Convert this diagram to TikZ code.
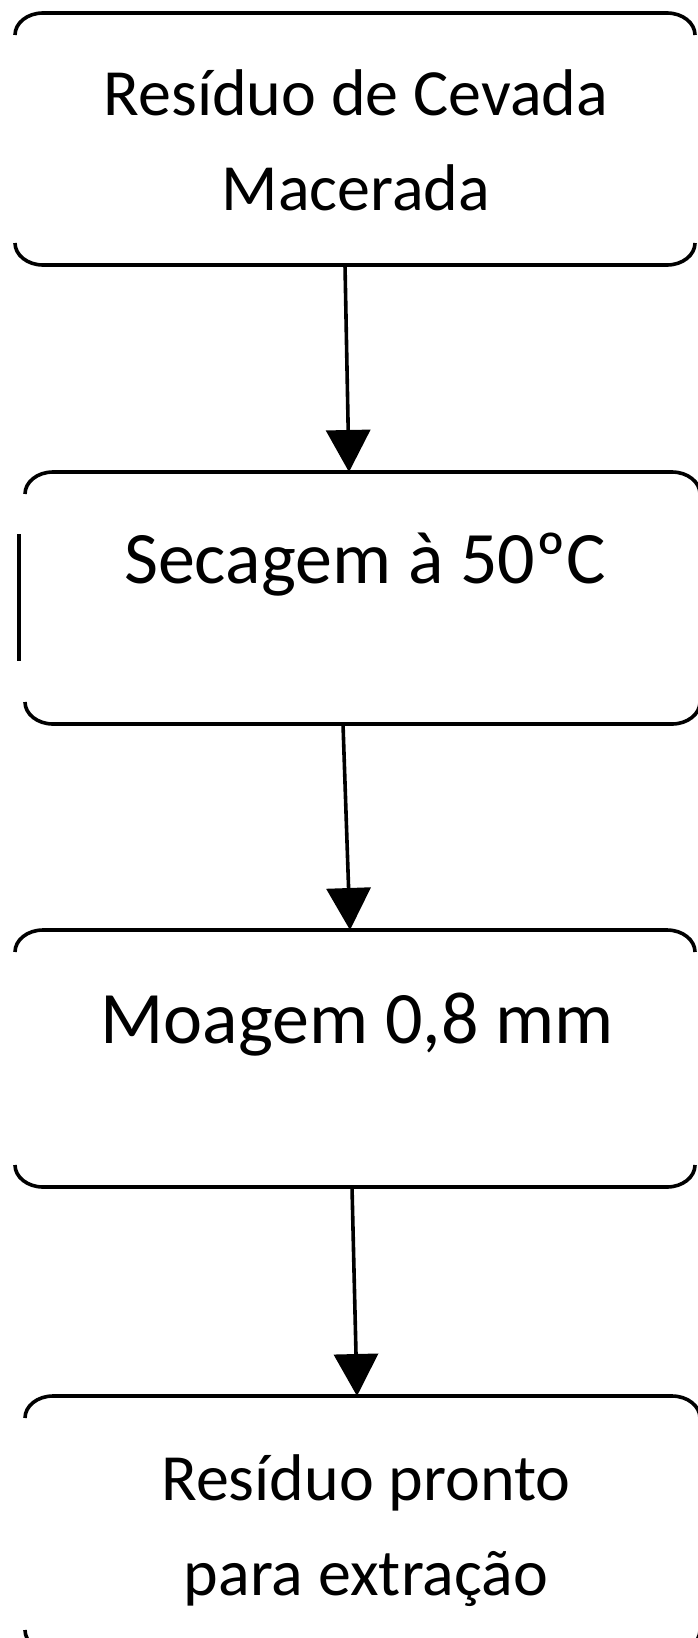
\documentclass[tikz,border=0pt]{standalone}
\usepackage{fontspec}
\setmainfont{Carlito}
\usetikzlibrary{arrows.meta}
\tikzset{
  boxnode/.style={rectangle, draw=none, inner sep=0pt, outer sep=0pt},
  boxline/.style={line width=3.6pt, black},
  txt/.style={align=center, inner sep=0pt, outer sep=0pt},
  arrowline/.style={line width=3.6pt, -{Triangle[length=42pt,width=44pt]}},
}
\newcommand\openbox[1]{%
  \draw[boxline] ([yshift=-22pt]#1.north west) arc[start angle=180,end angle=90,x radius=28pt,y radius=22pt]
     -- ([xshift=-28pt]#1.north east) arc[start angle=90,end angle=0,x radius=28pt,y radius=22pt];
  \draw[boxline] ([yshift=22pt]#1.south west) arc[start angle=180,end angle=270,x radius=28pt,y radius=22pt]
     -- ([xshift=-28pt]#1.south east) arc[start angle=270,end angle=360,x radius=28pt,y radius=22pt];
}
\begin{document}
\begin{tikzpicture}[x=1pt,y=1pt]
\useasboundingbox (0,0) rectangle (698,-1638);
\clip (0,0) rectangle (698,-1638);
% boxes
\node[boxnode, minimum width=680pt, minimum height=252pt] (b1) at (355,-139) {};
\node[boxnode, minimum width=675pt, minimum height=252pt] (b2) at (362.5,-598) {};
\node[boxnode, minimum width=680pt, minimum height=257pt] (b3) at (355,-1058.5) {};
\node[boxnode, minimum width=675pt, minimum height=256pt] (b4) at (362.5,-1524) {};
\openbox{b1}
\openbox{b2}
\openbox{b3}
\openbox{b4}
\draw[boxline] ([xshift=-6pt,yshift=64pt]b2.west) -- ([xshift=-6pt,yshift=-63pt]b2.west);
% texts (base anchor = baseline of the last line)
\node[txt, anchor=base, font=\fontsize{66}{95}\selectfont] (t1) at (356,-210) {Resíduo de Cevada\\Macerada};
\node[txt, anchor=base, font=\fontsize{74}{95}\selectfont] (t2) at (365,-583) {Secagem à 50ºC};
\node[txt, anchor=base, font=\fontsize{74}{95}\selectfont] (t3) at (357,-1043) {Moagem 0,8 mm};
\node[txt, anchor=base, font=\fontsize{66}{95}\selectfont] (t4) at (366,-1595) {Resíduo pronto\\para extração};
% arrows
\draw[arrowline] ([xshift=-10pt]b1.south) -- ([xshift=-13.5pt]b2.north);
\draw[arrowline] ([xshift=-19.5pt]b2.south) -- ([xshift=-5pt]b3.north);
\draw[arrowline] ([xshift=-3pt]b3.south) -- ([xshift=-5.5pt]b4.north);
\end{tikzpicture}
\end{document}
